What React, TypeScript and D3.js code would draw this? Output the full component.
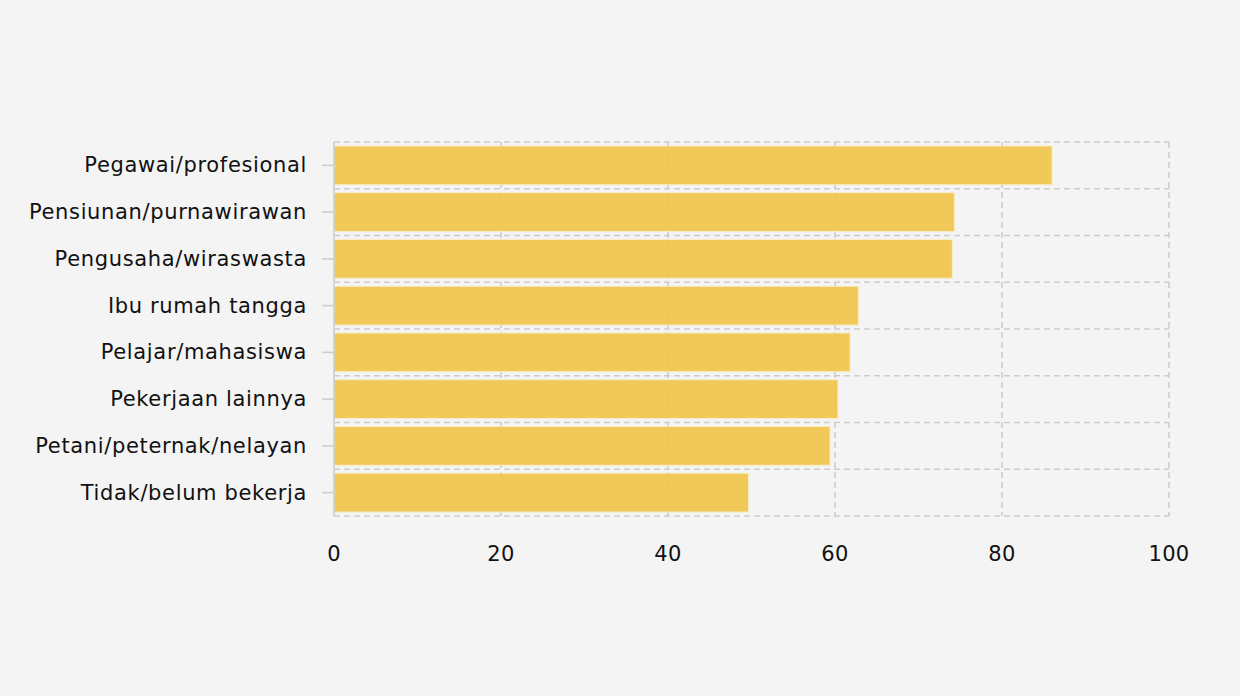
import * as d3 from "d3";
import React, { useEffect, useRef } from "react";

const categories = [
  "Pegawai/profesional",
  "Pensiunan/purnawirawan",
  "Pengusaha/wiraswasta",
  "Ibu rumah tangga",
  "Pelajar/mahasiswa",
  "Pekerjaan lainnya",
  "Petani/peternak/nelayan",
  "Tidak/belum bekerja",
];
const values = [86.0, 74.3, 74.05, 62.8, 61.8, 60.35, 59.4, 49.65];
const xTicks = [0, 20, 40, 60, 80, 100];

const width = 1240;
const height = 696;
const margin = { top: 142, right: 71, bottom: 180, left: 334 };
const font = "'DejaVu Sans', Verdana, sans-serif";

const App: React.FC = () => {
  const ref = useRef<SVGSVGElement>(null);

  useEffect(() => {
    if (!ref.current) return;
    const svg = d3.select(ref.current);
    svg.selectAll("*").remove();

    const x = d3.scaleLinear().domain([0, 100]).range([margin.left, width - margin.right]);
    const y = d3.scaleBand<string>().domain(categories).range([margin.top, height - margin.bottom]);
    const step = y.step();
    const inset = step * 0.085;

    svg.append("rect").attr("width", width).attr("height", height).attr("fill", "#f4f4f4");

    const grid = svg.append("g")
      .attr("stroke", "#cdcdcd")
      .attr("stroke-width", 1.6)
      .attr("stroke-dasharray", "6,4")
      .attr("fill", "none");

    // horizontal band boundaries
    const bounds = categories.map((c) => y(c) as number).concat([height - margin.bottom]);
    grid.selectAll(null)
      .data(bounds)
      .join("line")
      .attr("x1", x(0))
      .attr("x2", x(100))
      .attr("y1", (d) => d)
      .attr("y2", (d) => d);

    grid.selectAll(null)
      .data(xTicks.slice(1))
      .join("line")
      .attr("x1", (d) => x(d))
      .attr("x2", (d) => x(d))
      .attr("y1", margin.top)
      .attr("y2", height - margin.bottom);

    // bars
    svg.append("g")
      .selectAll("rect")
      .data(values)
      .join("rect")
      .attr("x", x(0))
      .attr("y", (_, i) => (y(categories[i]) as number) + inset)
      .attr("width", (d) => x(d) - x(0))
      .attr("height", step - inset * 2)
      .attr("fill", "#efc44a")
      .attr("fill-opacity", 0.92)
      .attr("stroke", "#f7ecc8")
      .attr("stroke-width", 1);

    // left axis line and ticks
    const axis = svg.append("g").attr("stroke", "#cdcdcd").attr("stroke-width", 1.6);
    axis.append("line")
      .attr("x1", x(0))
      .attr("x2", x(0))
      .attr("y1", margin.top)
      .attr("y2", height - margin.bottom);
    axis.selectAll(null)
      .data(categories)
      .join("line")
      .attr("x1", x(0) - 12)
      .attr("x2", x(0))
      .attr("y1", (d) => (y(d) as number) + step / 2)
      .attr("y2", (d) => (y(d) as number) + step / 2);

    svg.append("g")
      .selectAll("text")
      .data(categories)
      .join("text")
      .attr("x", x(0) - 27)
      .attr("y", (d) => (y(d) as number) + step / 2)
      .attr("dy", "0.33em")
      .attr("text-anchor", "end")
      .attr("font-family", font)
      .attr("font-size", 21)
      .attr("letter-spacing", 0.65)
      .attr("fill", "#111")
      .text((d) => d);

    svg.append("g")
      .selectAll("text")
      .data(xTicks)
      .join("text")
      .attr("x", (d) => x(d))
      .attr("y", 561)
      .attr("text-anchor", "middle")
      .attr("font-family", font)
      .attr("font-size", 21)
      .attr("letter-spacing", 0.3)
      .attr("fill", "#111")
      .text((d) => d);
  }, []);

  return (
    <svg
      ref={ref}
      width={width}
      height={height}
      style={{ position: "absolute", left: 0, top: 0 }}
    />
  );
};

export default App;
